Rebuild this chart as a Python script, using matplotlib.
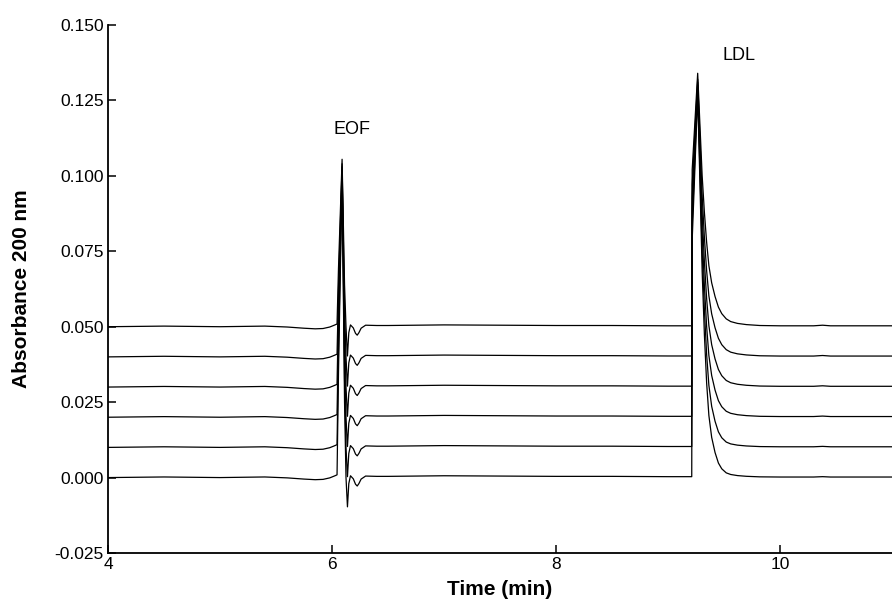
import numpy as np
import matplotlib.pyplot as plt

plt.rcParams['font.family'] = ['Liberation Sans', 'DejaVu Sans']
plt.rcParams['axes.unicode_minus'] = False

# baseline offsets of the six stacked electropherograms (bottom -> top)
offsets = [0.000, 0.010, 0.020, 0.030, 0.040, 0.050]
# absolute apex of the EOF and LDL peaks per trace
eof_top = [0.100, 0.101, 0.102, 0.103, 0.104, 0.1055]
ldl_top = [0.127, 0.129, 0.130, 0.131, 0.132, 0.134]
# how strong the LDL tailing is per trace
tail_scale = [0.60, 0.68, 0.76, 0.84, 0.92, 1.00]

# baseline before the EOF (relative to each trace's offset)
pre_t = [4.0, 4.5, 5.0, 5.4, 5.6, 5.75, 5.85, 5.92, 5.98, 6.02, 6.045]
pre_v = [0.0, 0.0002, 0.0, 0.0002, -0.0001, -0.0005, -0.0007, -0.0006, -0.0001, 0.0005, 0.0009]

# EOF spike: value = frac * peak height + add
eof_t = [6.058, 6.09, 6.112, 6.125, 6.138, 6.15, 6.165, 6.19, 6.21, 6.225, 6.24,
         6.26, 6.30, 6.40]
eof_frac = [0.35, 1.0, 0.25, 0.0, 0.0, 0.0, 0.0, 0.0, 0.0, 0.0, 0.0, 0.0, 0.0, 0.0]
eof_add = [0.0, 0.0, 0.0, 0.0, -0.0097, -0.002, 0.0006, -0.0004, -0.0022, -0.0028, -0.0020,
           -0.0005, 0.0005, 0.0004]

# flat region between the peaks
mid_t = [6.5, 7.0, 7.5, 8.0, 8.5, 9.0, 9.212]
mid_v = [0.0004, 0.0006, 0.0005, 0.0004, 0.0004, 0.0003, 0.0003]

# LDL peak: value = frac * peak height + tail * tail_scale
ldl_t = [9.216, 9.265, 9.285, 9.305, 9.325, 9.345, 9.365, 9.39, 9.42, 9.45, 9.48,
         9.52, 9.56, 9.62, 9.70, 9.82, 10.0, 10.3, 10.38, 10.45, 11.0]
ldl_frac = [0.62, 1.0, 0.75, 0.50, 0.32, 0.19, 0.11, 0.06, 0.03, 0.012, 0.004,
            0.0, 0.0, 0.0, 0.0, 0.0, 0.0, 0.0, 0.0, 0.0, 0.0]
ldl_tail = [0.0, 0.0, 0.004, 0.008, 0.011, 0.012, 0.011, 0.0095, 0.0075, 0.0055, 0.0040,
            0.0026, 0.0017, 0.0011, 0.0007, 0.0004, 0.0003, 0.0003, 0.0005, 0.0003, 0.0003]

fig = plt.figure(figsize=(8.92, 6.07), dpi=100)
ax = fig.add_axes([108 / 892, 54 / 607, 784 / 892, 528 / 607])

for off, et, lt, ts in zip(offsets, eof_top, ldl_top, tail_scale):
    h_eof = et - off
    h_ldl = lt - off
    t = pre_t + eof_t + mid_t + ldl_t
    v = (pre_v
         + [f * h_eof + a for f, a in zip(eof_frac, eof_add)]
         + mid_v
         + [f * h_ldl + tl * ts for f, tl in zip(ldl_frac, ldl_tail)])
    ax.plot(t, np.array(v) + off, color='black', lw=0.9)

ax.text(6.18, 0.1155, 'EOF', ha='center', va='center', fontsize=13)
ax.text(9.63, 0.1400, 'LDL', ha='center', va='center', fontsize=13)

ax.set_xlim(4, 11.0)
ax.set_ylim(-0.025, 0.150)
ax.set_xticks([4, 6, 8, 10])
ax.set_yticks(np.arange(-0.025, 0.1501, 0.025))
ax.set_yticklabels([f'{y:.3f}' for y in np.arange(-0.025, 0.1501, 0.025)])
ax.tick_params(direction='in', length=6, width=1.1, labelsize=12.5, pad=3)

for s in ['top', 'right']:
    ax.spines[s].set_visible(False)
for s in ['left', 'bottom']:
    ax.spines[s].set_linewidth(1.3)

ax.set_xlabel('Time (min)', fontsize=15, fontweight='bold')
ax.set_ylabel('Absorbance 200 nm', fontsize=15, fontweight='bold')
ax.xaxis.set_label_coords(0.5, -0.052)
ax.yaxis.set_label_coords(-0.098, 0.5)

fig.savefig('out.png', dpi=100)
